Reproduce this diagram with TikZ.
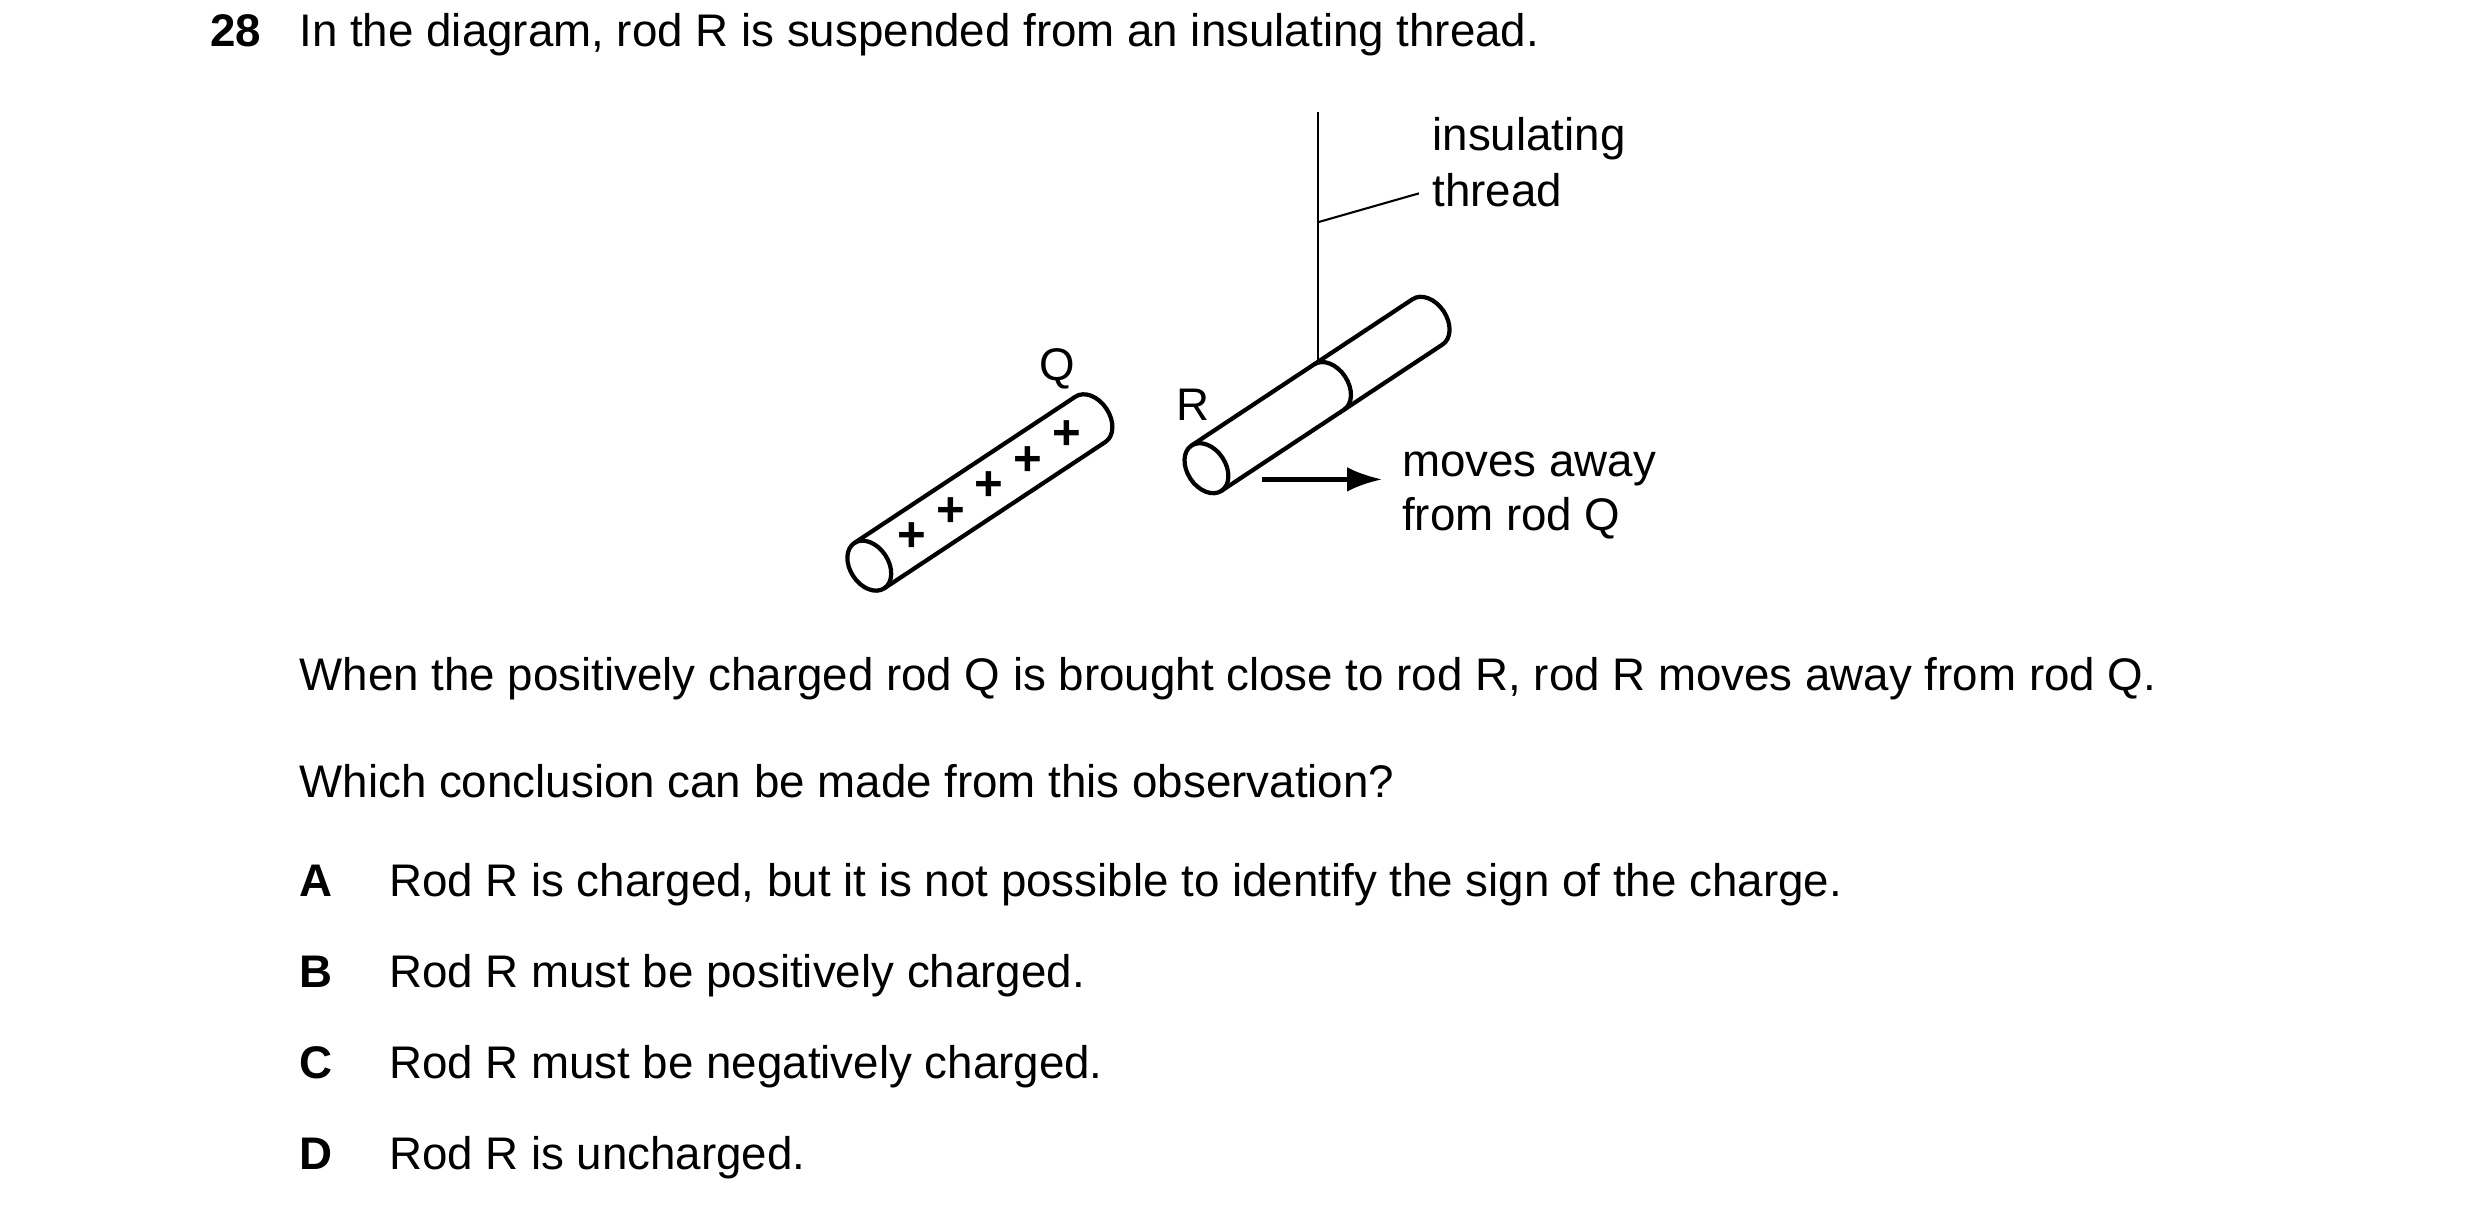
\documentclass[tikz,border=0pt]{standalone}
\usepackage{fontspec}
\setmainfont{Liberation Sans}
\usetikzlibrary{arrows.meta}
\begin{document}
\begin{tikzpicture}[x=0.01598cm,y=0.01598cm,
  txt/.style={anchor=base west,inner sep=0pt,font=\fontsize{13}{15}\selectfont},
  rod/.style={line width=1.2pt},
  thin/.style={line width=0.6pt}]
\useasboundingbox (0,0) rectangle (1552,-755);
% text
\node[txt,font=\fontsize{13}{15}\selectfont\bfseries] (num) at (131,-29) {28};
\node[txt] (q1) at (187,-29) {In the diagram, rod R is suspended from an insulating thread.};
\node[txt] (p1) at (187,-432) {When the positively charged rod Q is brought close to rod R, rod R moves away from rod Q.};
\node[txt] (p2) at (187,-499) {Which conclusion can be made from this observation?};
\foreach \L/\T/\y [count=\i] in {A/{Rod R is charged, but it is not possible to identify the sign of the charge.}/561,
  B/{Rod R must be positively charged.}/618, C/{Rod R must be negatively charged.}/675, D/{Rod R is uncharged.}/732}{
  \node[txt,font=\fontsize{13}{15}\selectfont\bfseries] (l\i) at (187,-\y) {\L};
  \node[txt] (t\i) at (243,-\y) {\T};
}
% rod Q
\begin{scope}[shift={(544,-354)},rotate=33.5]
  \draw[rod] (0,0) ellipse [x radius=12,y radius=17];
  \draw[rod] (0,17) -- (166,17) arc[start angle=90,end angle=-90,x radius=12,y radius=17] -- (0,-17);
  \foreach \d in {32,61,90,119,148}{
    \node[inner sep=0pt,font=\fontsize{14}{15}\selectfont\bfseries] at (\d,0) {+};
  }
\end{scope}
% rod R
\begin{scope}[shift={(755,-293)},rotate=33.5]
  \draw[rod] (0,0) ellipse [x radius=12,y radius=17];
  \draw[rod] (0,17) -- (166,17) arc[start angle=90,end angle=-90,x radius=12,y radius=17] -- (0,-17);
  \draw[rod] (92,17) arc[start angle=90,end angle=-90,x radius=12,y radius=17];
  \coordinate (ringtop) at (92,17);
\end{scope}
% thread
\coordinate (top) at (825,-70);
\draw[thin] (top) -- (top |- ringtop);
\coordinate (lead) at (825,-139);
\node[txt] (ins) at (896,-94) {insulating};
\node[txt] (thr) at (896,-129) {thread};
\draw[thin] (lead) -- (888,-121);
% labels
\node[txt] (Q) at (650,-238) {Q};
\node[txt] (R) at (736,-263) {R};
% arrow
\coordinate (a1) at (790,-300);
\coordinate (a2) at (865,-300);
\draw[line width=1.3pt,-{Latex[length=10pt,width=7pt]}] (a1) -- (a2);
\node[txt] (mv) at (877,-298) {moves away};
\node[txt] (fr) at (877,-332) {from rod Q};
\end{tikzpicture}
\end{document}
